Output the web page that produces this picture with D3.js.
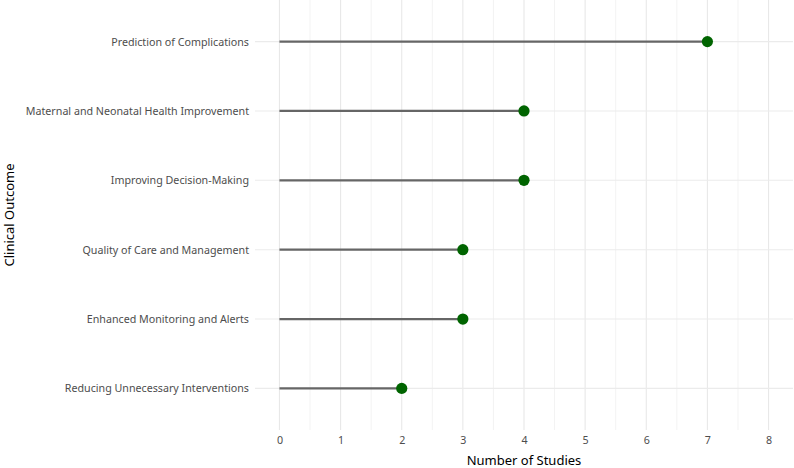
<!DOCTYPE html>
<html>
<head>
<meta charset="utf-8">
<script src="https://cdn.jsdelivr.net/npm/d3@7"></script>
<style>
  body { margin: 0; background: #fff; }
  text { font-family: "Noto Sans", "Open Sans", sans-serif; }
</style>
</head>
<body>
<div id="chart"></div>
<script>
// data (top to bottom)
const outcomes = [
  "Prediction of Complications",
  "Maternal and Neonatal Health Improvement",
  "Improving Decision-Making",
  "Quality of Care and Management",
  "Enhanced Monitoring and Alerts",
  "Reducing Unnecessary Interventions"
];
const studies = [7, 4, 4, 3, 3, 2];
const xTicks = [0, 1, 2, 3, 4, 5, 6, 7, 8];

const W = 794, H = 468;
const pLeft = 255, pRight = 793, pTop = 0, pBottom = 430;

const svg = d3.select("#chart").append("svg")
  .attr("width", W).attr("height", H);

// skala x dengan ekspansi 5%
const x = d3.scaleLinear()
  .domain([-0.4, 8.4])
  .range([pLeft, pRight]);

// skala y diskrit
const y = d3.scalePoint()
  .domain(outcomes)
  .range([pTop, pBottom])
  .padding(0.6);

// minor grid
const minor = d3.range(0.5, 8, 1);
svg.append("g").selectAll("line").data(minor).join("line")
  .attr("x1", d => x(d)).attr("x2", d => x(d))
  .attr("y1", pTop).attr("y2", pBottom)
  .attr("stroke", "#f3f3f3").attr("stroke-width", 1);

// major grid
svg.append("g").selectAll("line").data(xTicks).join("line")
  .attr("x1", d => x(d)).attr("x2", d => x(d))
  .attr("y1", pTop).attr("y2", pBottom)
  .attr("stroke", "#e8e8e8").attr("stroke-width", 1.1);

svg.append("g").selectAll("line").data(outcomes).join("line")
  .attr("x1", pLeft).attr("x2", pRight)
  .attr("y1", d => y(d)).attr("y2", d => y(d))
  .attr("stroke", "#ebebeb").attr("stroke-width", 1.1);

// batang lollipop
svg.append("g").selectAll("line").data(outcomes).join("line")
  .attr("x1", x(0)).attr("x2", (d, i) => x(studies[i]))
  .attr("y1", d => y(d)).attr("y2", d => y(d))
  .attr("stroke", "#666666").attr("stroke-width", 2.2);

// titik
svg.append("g").selectAll("circle").data(outcomes).join("circle")
  .attr("cx", (d, i) => x(studies[i]))
  .attr("cy", d => y(d))
  .attr("r", 5.6)
  .attr("fill", "#006400");

// sumbu x
const gx = svg.append("g")
  .attr("transform", "translate(0," + pBottom + ")")
  .call(d3.axisBottom(x).tickValues(xTicks).tickSize(0).tickPadding(6));
gx.select(".domain").remove();
gx.selectAll("text").attr("fill", "#4d4d4d").style("font-size", "10.7px");

// sumbu y
const gy = svg.append("g")
  .attr("transform", "translate(" + pLeft + ",0)")
  .call(d3.axisLeft(y).tickSize(0).tickPadding(6));
gy.select(".domain").remove();
gy.selectAll("text").attr("fill", "#4d4d4d").style("font-size", "10.7px");

// judul sumbu
svg.append("text")
  .attr("x", x(4)).attr("y", 465)
  .attr("text-anchor", "middle")
  .style("font-size", "13px")
  .attr("fill", "#000")
  .text("Number of Studies");

svg.append("text")
  .attr("transform", "rotate(-90)")
  .attr("x", -(pTop + pBottom) / 2).attr("y", 14)
  .attr("text-anchor", "middle")
  .style("font-size", "13px")
  .attr("fill", "#000")
  .text("Clinical Outcome");
</script>
</body>
</html>
